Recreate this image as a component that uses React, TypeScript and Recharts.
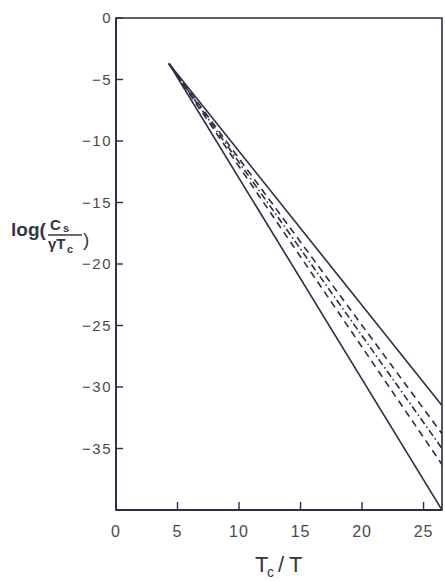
import { Line, LineChart, ReferenceArea, XAxis, YAxis } from "recharts";

// T_c / T at the common start point and at the right frame edge
const tcOverT = [4.3, 26.5];
const solidUpper = [-3.7, -31.5];
const dashedUpper = [-3.7, -33.8];
const dashDot = [-3.7, -35.0];
const dashedLower = [-3.7, -36.3];
const solidLower = [-3.7, -40.0];

const xTicks = [0, 5, 10, 15, 20, 25];
const yTicks = [0, -5, -10, -15, -20, -25, -30, -35];

const data = tcOverT.map((x, i) => ({
  x,
  s1: solidUpper[i],
  d1: dashedUpper[i],
  dd: dashDot[i],
  d2: dashedLower[i],
  s2: solidLower[i],
}));

const INK = "#2b2e45";
const TEXT = "#4a4a4a";
const FONT = "'Liberation Sans', Arial, sans-serif";

const fmt = (v: number) => (v < 0 ? `\u2212${Math.abs(v)}` : `${v}`);

function XTick({ x, y, payload }: any) {
  return (
    <g>
      <line x1={x} x2={x} y1={y} y2={y - 8} stroke={INK} strokeWidth={1.4} />
      <text
        x={x}
        y={y + 27}
        textAnchor="middle"
        fontFamily={FONT}
        fontSize={16}
        letterSpacing={1}
        fill={TEXT}
      >
        {payload.value}
      </text>
    </g>
  );
}

function YTick({ x, y, payload }: any) {
  return (
    <g>
      <line x1={x} x2={x + 7} y1={y} y2={y} stroke={INK} strokeWidth={1.4} />
      <text
        x={x - 4}
        y={y + 5}
        textAnchor="end"
        fontFamily={FONT}
        fontSize={15}
        letterSpacing={1.5}
        fill={TEXT}
      >
        {fmt(payload.value)}
      </text>
    </g>
  );
}

function YLabel() {
  return (
    <g fontFamily={FONT} fill="#333645" fontWeight="bold">
      <text x={11} y={236} fontSize={19}>
        log(
      </text>
      <text x={50} y={230} fontSize={15}>
        C
      </text>
      <text x={63} y={232} fontSize={11}>
        s
      </text>
      <line x1={48} x2={82} y1={235} y2={235} stroke="#333645" strokeWidth={1.6} />
      <text x={48} y={249} fontSize={15}>
        γT
      </text>
      <text x={67} y={253} fontSize={11}>
        c
      </text>
      <text x={83} y={246} fontSize={19} fontWeight="normal">
        )
      </text>
    </g>
  );
}

function XLabel() {
  return (
    <g fontFamily={FONT} fill="#333645">
      <text x={255} y={572} fontSize={22}>
        T
      </text>
      <text x={267} y={577} fontSize={14}>
        c
      </text>
      <text x={278} y={572} fontSize={22}>
        /
      </text>
      <text x={289} y={572} fontSize={22}>
        T
      </text>
    </g>
  );
}

export default function App() {
  return (
    <div style={{ position: "absolute", left: 0, top: 0, background: "#fff" }}>
      <LineChart
        width={445}
        height={581}
        data={data}
        margin={{ top: 18, right: 3, bottom: 0, left: 0 }}
      >
        <XAxis
          type="number"
          dataKey="x"
          domain={[0, 26.5]}
          ticks={xTicks}
          allowDataOverflow
          height={71}
          tickSize={0}
          tickMargin={0}
          tickLine={false}
          tick={<XTick />}
          axisLine={{ stroke: INK, strokeWidth: 1.8 }}
          label={<XLabel />}
        />
        <YAxis
          type="number"
          domain={[-40, 0]}
          ticks={yTicks}
          allowDataOverflow
          width={116}
          tickSize={0}
          tickMargin={0}
          tickLine={false}
          tick={<YTick />}
          axisLine={{ stroke: INK, strokeWidth: 1.8 }}
          label={<YLabel />}
        />
        <ReferenceArea
          x1={0}
          x2={26.5}
          y1={-40}
          y2={0}
          fill="none"
          stroke={INK}
          strokeWidth={1.6}
        />
        <Line dataKey="s1" stroke={INK} strokeWidth={1.6} dot={false} isAnimationActive={false} />
        <Line
          dataKey="d1"
          stroke={INK}
          strokeWidth={1.6}
          strokeDasharray="7 5"
          dot={false}
          isAnimationActive={false}
        />
        <Line
          dataKey="dd"
          stroke={INK}
          strokeWidth={1.6}
          strokeDasharray="7 3 1.5 3"
          dot={false}
          isAnimationActive={false}
        />
        <Line
          dataKey="d2"
          stroke={INK}
          strokeWidth={1.6}
          strokeDasharray="7 5"
          dot={false}
          isAnimationActive={false}
        />
        <Line dataKey="s2" stroke={INK} strokeWidth={1.6} dot={false} isAnimationActive={false} />
      </LineChart>
    </div>
  );
}
